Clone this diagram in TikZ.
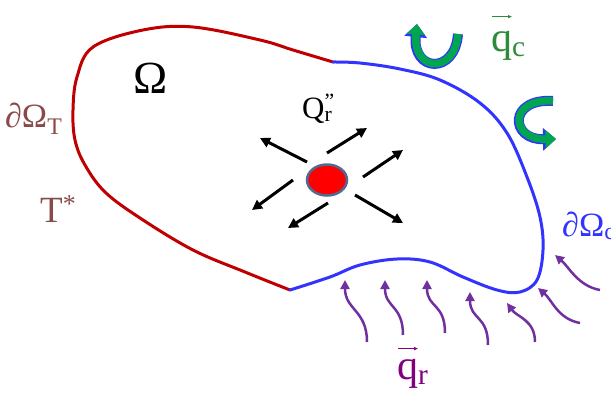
\documentclass[tikz,border=0pt]{standalone}
\usepackage{fontspec}
\setmainfont{Liberation Serif}
\usetikzlibrary{positioning,arrows.meta,shapes.geometric}

\definecolor{bndred}{HTML}{C00000}
\definecolor{bndblue}{HTML}{3333FF}
\definecolor{txtbrown}{HTML}{8B4A4A}
\definecolor{qcgreen}{HTML}{2E8B3A}
\definecolor{qrpurple}{HTML}{7030A0}
\definecolor{qrtext}{HTML}{800080}
\definecolor{srcedge}{HTML}{4F6B94}
\definecolor{swirlgreen}{HTML}{00A550}

\tikzset{
  bnd/.style={line width=3pt, line cap=round},
  ray/.style={line width=3pt, -{Triangle[length=10pt,width=10pt]}},
  wave/.style={qrpurple, line width=2.5pt, -{Triangle[length=9pt,width=9pt]}},
  swirlout/.style={bndblue, line width=10pt, -{Triangle[length=13pt,width=22pt]}},
  swirlin/.style={swirlgreen, line width=7.5pt, -{Triangle[length=10.5pt,width=18pt]}},
  lbl/.style={inner sep=0pt, anchor=base west},
  vecmark/.style={line width=1pt, -{Triangle[length=4pt,width=3pt]}}
}

\begin{document}
\begin{tikzpicture}[x=1pt, y=-1pt]
  \clip (0,0) rectangle (611,392);

  % boundary of the domain
  \draw[bnd, bndred] plot[smooth, tension=0.6] coordinates {
    (333,62) (293,50) (260,40) (193,27) (143,30) (93,47) (77,77) (73,110)
    (75,140) (85,165) (105,192) (140,218) (193,250) (245,272) (290,290)};
  \draw[bnd, bndblue] plot[smooth, tension=0.6] coordinates {
    (333,62) (360,63) (400,69) (440,80) (480,103) (507,133) (527,177)
    (540,217) (543,250) (537,280) (520,292) (497,290) (463,277) (430,262)
    (397,259) (360,265) (330,277) (290,290)};

  % source and its rays
  \node[ellipse, fill=red, draw=srcedge, line width=2.5pt,
        minimum width=40pt, minimum height=31pt] (src) at (327,180) {};
  \coordinate (ra1) at (327,153); \coordinate (rb1) at (367,128);
  \coordinate (ra2) at (363,177); \coordinate (rb2) at (403,150);
  \coordinate (ra3) at (307,162); \coordinate (rb3) at (260,138);
  \coordinate (ra4) at (293,180); \coordinate (rb4) at (252,210);
  \coordinate (ra5) at (328,203); \coordinate (rb5) at (288,228);
  \coordinate (ra6) at (355,195); \coordinate (rb6) at (403,223);
  \draw[ray] (ra1) -- (rb1);
  \draw[ray] (ra2) -- (rb2);
  \draw[ray] (ra3) -- (rb3);
  \draw[ray] (ra4) -- (rb4);
  \draw[ray] (ra5) -- (rb5);
  \draw[ray] (ra6) -- (rb6);

  % convection swirls
  \coordinate (sa1) at (458,34); \coordinate (sb1) at (417,24);
  \coordinate (sa2) at (553,101); \coordinate (sb2) at (556,139);
  \draw[swirlout] (sa1) .. controls (455,75) and (412,72) .. (sb1);
  \draw[swirlin]  (sa1) .. controls (455,75) and (412,72) .. (sb1);
  \draw[swirlout] (sa2) .. controls (508,98) and (510,140) .. (sb2);
  \draw[swirlin]  (sa2) .. controls (508,98) and (510,140) .. (sb2);

  % incoming radiation
  \coordinate (wa1) at (367,342); \coordinate (wb1) at (345,280);
  \coordinate (wa2) at (403,335); \coordinate (wb2) at (385,280);
  \coordinate (wa3) at (445,333); \coordinate (wb3) at (427,280);
  \coordinate (wa4) at (488,345); \coordinate (wb4) at (470,292);
  \coordinate (wa5) at (535,342); \coordinate (wb5) at (507,303);
  \coordinate (wa6) at (580,323); \coordinate (wb6) at (538,288);
  \coordinate (wa7) at (600,290); \coordinate (wb7) at (555,255);
  \draw[wave] (wa1) .. controls +(0,-32) and +(0,30) .. (wb1);
  \draw[wave] (wa2) .. controls +(0,-30) and +(0,28) .. (wb2);
  \draw[wave] (wa3) .. controls +(0,-30) and +(0,28) .. (wb3);
  \draw[wave] (wa4) .. controls +(0,-30) and +(0,28) .. (wb4);
  \draw[wave] (wa5) .. controls +(0,-22) and +(10,14) .. (wb5);
  \draw[wave] (wa6) .. controls +(-22,-4) and +(14,12) .. (wb6);
  \draw[wave] (wa7) .. controls +(-22,-4) and +(14,12) .. (wb7);

  % labels
  \node[lbl, font=\fontsize{46}{46}\selectfont] (om) at (133,93) {Ω};
  \node[lbl, txtbrown, font=\fontsize{34}{34}\selectfont] (dOT) at (5,127)
    {∂Ω\textsubscript{T}};
  \node[lbl, txtbrown, font=\fontsize{37}{37}\selectfont] (Tst) at (40,222)
    {T\textsuperscript{*}};
  \node[lbl, font=\fontsize{31}{31}\selectfont] (Qr) at (302,118)
    {Q\rlap{\textsuperscript{"}}\textsubscript{r}};
  \node[lbl, qcgreen, font=\fontsize{42}{42}\selectfont] (qc) at (491,51)
    {q\textsubscript{c}};
  \node[lbl, qrtext, font=\fontsize{42}{42}\selectfont] (qr) at (397,379)
    {q\textsubscript{r}};
  \node[lbl, bndblue, font=\fontsize{34}{34}\selectfont] (dOc) at (562,236)
    {∂Ω\textsubscript{c}};
  \draw[vecmark, qcgreen] ([xshift=1pt,yshift=14pt]qc.north west)
    -- ([xshift=21pt,yshift=14pt]qc.north west);
  \draw[vecmark, qrtext] ([xshift=1pt,yshift=10pt]qr.north west)
    -- ([xshift=21pt,yshift=10pt]qr.north west);
\end{tikzpicture}
\end{document}
